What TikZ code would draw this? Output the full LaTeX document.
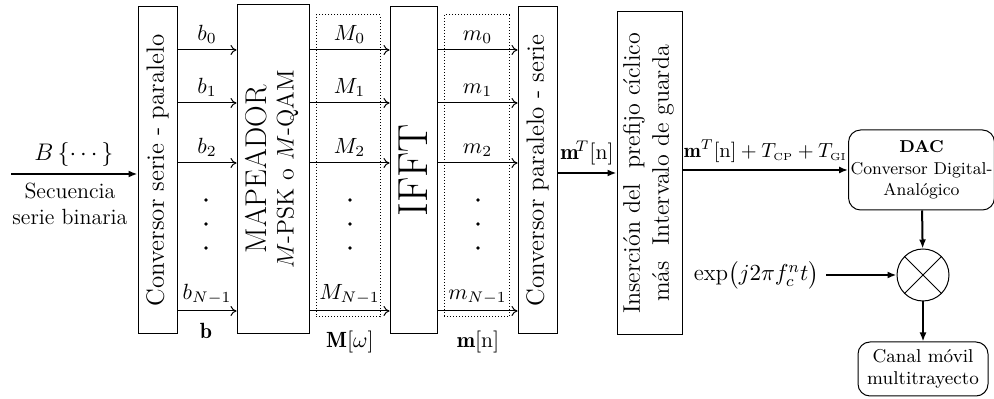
\RequirePackage{fix-cm}
\documentclass[tikz,border=0pt]{standalone}
\usepackage{amsmath}
\usepackage{amssymb}
\usepackage{fontspec}
\usepackage{tikz}
\usetikzlibrary{arrows.meta}

\begin{document}
\begin{tikzpicture}[x=0.5pt, y=-0.5pt,
  blk/.style={draw, line width=0.5pt, inner sep=0pt},
  dotbox/.style={draw, densely dotted, line width=0.5pt, inner sep=0pt},
  rblk/.style={draw, line width=0.5pt, rounded corners=6pt, align=center, inner sep=1pt},
  thinarrow/.style={line width=0.5pt, -{To[length=3pt, width=5pt]}},
  thickarrow/.style={line width=1pt, -{Latex[length=4.5pt, width=3.5pt]}},
  lbl/.style={font=\fontsize{11}{13}\selectfont}]

\useasboundingbox (0,0) rectangle (994,399);

% Blocks
\node[blk, minimum width=19.5pt, minimum height=163.5pt] (sp) at (157.5,170.5)
  {\rotatebox{90}{\fontsize{12.5}{14}\selectfont Conversor serie - paralelo}};
\node[blk, minimum width=36pt, minimum height=164.5pt] (map) at (273,169.5)
  {\rotatebox{90}{\begin{tabular}{c}\fontsize{15}{17}\selectfont MAPEADOR\\[1.5pt]
   \fontsize{12}{14}\selectfont $M$-PSK o $M$-QAM\end{tabular}}};
\node[dotbox, minimum width=32pt, minimum height=151pt] (symM) at (348,166) {};
\node[blk, minimum width=23.5pt, minimum height=163.5pt] (ifft) at (413.5,170.5)
  {\rotatebox{90}{\fontsize{21}{24}\selectfont IFFT}};
\node[dotbox, minimum width=32.5pt, minimum height=151pt] (symm) at (476.5,166) {};
\node[blk, minimum width=19.5pt, minimum height=163.5pt] (ps) at (537.5,170.5)
  {\rotatebox{90}{\fontsize{12.5}{14}\selectfont Conversor paralelo - serie}};
\node[blk, minimum width=32.5pt, minimum height=161.5pt] (ins) at (649.5,173.5)
  {\rotatebox{90}{\begin{tabular}{c}\fontsize{12}{14}\selectfont Inserci\'on del \ prefijo c\'{\i}clico\\[2.5pt]
   \fontsize{12}{14}\selectfont m\'as \ Intervalo de guarda\end{tabular}}};
\node[rblk, minimum width=71.5pt, minimum height=40pt, font=\fontsize{8.6}{10.8}\selectfont] (dac) at (921.5,170)
  {\textbf{DAC}\\Conversor Digital-\\Anal\'ogico};
\node[draw, circle, line width=0.5pt, minimum size=26pt, inner sep=0pt] (mix) at (923,275) {};
\draw[line width=0.5pt] (mix.north west) -- (mix.south east) (mix.north east) -- (mix.south west);
\node[rblk, minimum width=65pt, minimum height=27pt, font=\fontsize{9.3}{11}\selectfont] (canal) at (923,369)
  {Canal m\'ovil\\multitrayecto};

% Input
\coordinate (in) at (11,174);
\draw[thickarrow] (in) -- (in -| sp.west);
\node[lbl, font=\fontsize{12}{14}\selectfont] (B) at (74,155) {$B\,\{\cdots\}$};
\node[lbl, align=center] (sec) at (70,204) {Secuencia\\serie binaria};

% Parallel branches
\foreach \y/\i [count=\k] in {50/0, 103/1, 163/2, 311/{N-1}} {
  \coordinate (r\k) at (0,\y);
  \draw[thinarrow] (sp.east |- r\k) -- (map.west |- r\k) node[lbl, midway, above=-0.5pt] {$b_{\i}$};
  \draw[thinarrow] (map.east |- r\k) -- (ifft.west |- r\k) node[lbl, midway, above=-0.5pt] {$M_{\i}$};
  \draw[thinarrow] (ifft.east |- r\k) -- (ps.west |- r\k) node[lbl, midway, above=-0.5pt] {$m_{\i}$};
}

% Dots
\foreach \x in {206, 350, 478} {
  \foreach \y in {200, 224, 248} {
    \fill (\x,\y) circle (0.9pt);
  }
}

% Vector labels
\node[lbl] (bvec) at (206,331) {$\mathbf{b}$};
\node[lbl] (Mvec) at (350,342) {$\mathbf{M}[\omega]$};
\node[lbl] (mvec) at (478,342) {$\mathbf{m}[\mathrm{n}]$};

% Serial output chain
\coordinate (ser) at (0,173);
\draw[thickarrow] (ps.east |- ser) -- (ins.west |- ser) node[lbl, midway, above=0pt] {$\mathbf{m}^{\!T}[\mathrm{n}]$};
\draw[thickarrow] (ins.east |- dac.west) -- (dac.west)
  node[lbl, font=\fontsize{10.2}{12}\selectfont, midway, above=0pt] {$\mathbf{m}^{T}[\mathrm{n}]+T_{\scriptscriptstyle\mathrm{CP}}+T_{\scriptscriptstyle\mathrm{GI}}$};
\draw[thickarrow] (dac) -- (mix);
\node[lbl, font=\fontsize{11.5}{13}\selectfont, anchor=east] (osc) at (826,275) {$\exp\bigl(j2\pi f_c^n t\bigr)$};
\draw[thickarrow] (osc) -- (mix);
\draw[thickarrow] (mix) -- (canal);

\end{tikzpicture}
\end{document}
